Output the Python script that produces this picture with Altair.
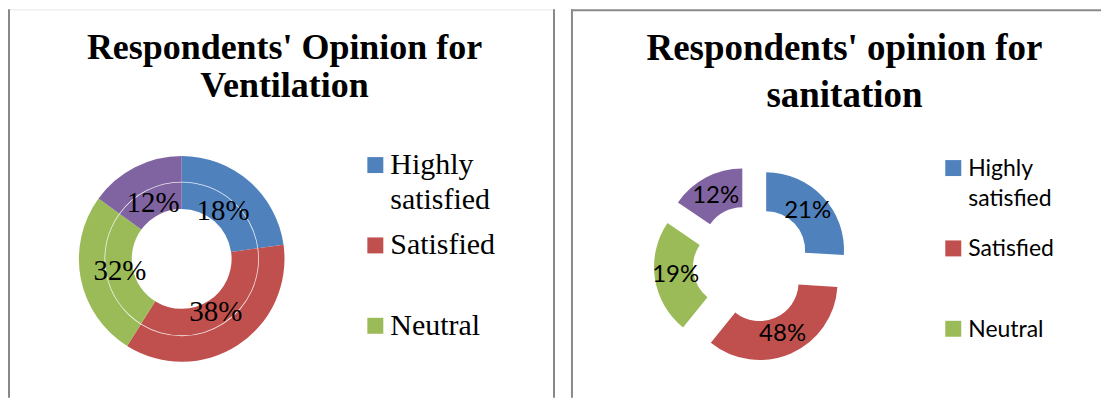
import altair as alt
import pandas as pd

# ---- data ----
categories = ["Highly satisfied", "Satisfied", "Neutral", "Dissatisfied"]
# slice sizes as drawn in the picture (estimated from the arc angles)
ventilation_slices = [22.8, 36.1, 26.1, 15.0]
sanitation_slices = [26.0, 34.8, 23.7, 15.5]
# data labels as printed on the picture
ventilation_labels = ["18%", "38%", "32%", "12%"]
sanitation_labels = ["21%", "48%", "19%", "12%"]
legend_categories = ["Highly satisfied", "Satisfied", "Neutral"]
legend_labels = ["Highly\nsatisfied", "Satisfied", "Neutral"]
colors = ["#4F81BD", "#C0504D", "#9BBB59", "#8064A2"]
title_left = ["Respondents' Opinion for", "Ventilation"]
title_right = ["Respondents' opinion for", "sanitation"]

SERIF = "Liberation Serif"
SANS = "Lato"

color_scale = alt.Scale(domain=categories, range=colors)


def pie_base(values, labels):
    df = pd.DataFrame({"cat": categories, "value": values, "lbl": labels,
                       "order": list(range(len(values)))})
    return (
        alt.Chart(df)
        .transform_joinaggregate(total="sum(value)")
        .transform_window(cum="sum(value)", frame=[None, 0], sort=[{"field": "order"}])
        .transform_calculate(
            t0="2*PI*(datum.cum-datum.value)/datum.total",
            t1="2*PI*datum.cum/datum.total",
        )
        .transform_calculate(mid="(datum.t0+datum.t1)/2")
    )


def legend_layer(x_sq, x_txt, y_range, font, size, line_h, dy):
    ldf = pd.DataFrame({"cat": legend_categories, "label": legend_labels})
    yscale = alt.Scale(domain=legend_categories, range=y_range, padding=0)
    sq = alt.Chart(ldf).mark_square(size=256, opacity=1).encode(
        x=alt.value(x_sq),
        y=alt.Y("cat:N", scale=yscale, axis=None),
        color=alt.Color("cat:N", scale=color_scale, legend=None),
    )
    tx = alt.Chart(ldf).mark_text(
        align="left", baseline="alphabetic", font=font, fontSize=size,
        lineBreak="\n", lineHeight=line_h, dy=dy, color="black",
    ).encode(
        x=alt.value(x_txt),
        y=alt.Y("cat:N", scale=yscale, axis=None),
        text="label:N",
    )
    return sq + tx


one = pd.DataFrame({"a": [0]})

# ---------------- left panel ----------------
W1, H = 548, 389
CX1, CY1 = 174, 250
lb = pie_base(ventilation_slices, ventilation_labels)
left_arcs = lb.mark_arc(innerRadius=50, outerRadius=103).encode(
    theta=alt.Theta("t0:Q", scale=None), theta2="t1:Q",
    color=alt.Color("cat:N", scale=color_scale, legend=None),
    x=alt.value(CX1), y=alt.value(CY1),
)
left_ring = lb.mark_arc(innerRadius=76.6, outerRadius=77.4, color="white", opacity=0.85).encode(
    theta=alt.Theta("t0:Q", scale=None), theta2="t1:Q",
    x=alt.value(CX1), y=alt.value(CY1),
)
left_labels = lb.mark_text(radius=63, font=SERIF, fontSize=29, color="black",
                           align="center", baseline="middle").encode(
    theta=alt.Theta("mid:Q", scale=None), text="lbl:N",
    x=alt.value(CX1), y=alt.value(CY1),
)
left_title = alt.Chart(one).mark_text(
    text=title_left, font=SERIF, fontSize=36, fontWeight="bold", lineHeight=38,
    align="center", baseline="alphabetic", color="black",
).encode(x=alt.value(277), y=alt.value(50))
left_border_l = alt.Chart(one).mark_rule(color="#888888", strokeWidth=2).encode(
    x=alt.value(1), y=alt.value(0), y2=alt.value(H))
left_border_r = alt.Chart(one).mark_rule(color="#888888", strokeWidth=2).encode(
    x=alt.value(547), y=alt.value(0), y2=alt.value(H))
left_border_t = alt.Chart(one).mark_rule(color="#e6e6e6", strokeWidth=1).encode(
    x=alt.value(1), x2=alt.value(547), y=alt.value(0.5))

left_legend = legend_layer(368, 383, [156, 317], SERIF, 30, 35, 9)

left = alt.layer(
    left_border_t, left_border_l, left_border_r, left_arcs, left_ring, left_labels,
    left_title, left_legend,
).properties(width=W1, height=H)

# ---------------- right panel ----------------
W2 = 531
CX2, CY2, EXPL = 181, 255, 20
rb = pie_base(sanitation_slices, sanitation_labels).transform_calculate(
    cx=f"{CX2} + {EXPL}*sin(datum.mid)",
    cy=f"{CY2} - {EXPL}*cos(datum.mid)",
)
right_arcs = rb.mark_arc(innerRadius=39, outerRadius=78).encode(
    theta=alt.Theta("t0:Q", scale=None), theta2="t1:Q",
    color=alt.Color("cat:N", scale=color_scale, legend=None),
    x=alt.X("cx:Q", scale=None, axis=None), y=alt.Y("cy:Q", scale=None, axis=None),
)
right_labels = rb.mark_text(radius=57, font=SANS, fontSize=24, color="black",
                            align="center", baseline="middle").encode(
    theta=alt.Theta("mid:Q", scale=None), text="lbl:N",
    x=alt.X("cx:Q", scale=None, axis=None), y=alt.Y("cy:Q", scale=None, axis=None),
)
right_title = alt.Chart(one).mark_text(
    text=title_right, font=SERIF, fontSize=37, fontWeight="bold", lineHeight=47,
    align="center", baseline="alphabetic", color="black",
).encode(x=alt.value(274), y=alt.value(51))
right_border_l = alt.Chart(one).mark_rule(color="#8a8a8a", strokeWidth=2).encode(
    x=alt.value(1), y=alt.value(0), y2=alt.value(H))
right_border_t = alt.Chart(one).mark_rule(color="#8a8a8a", strokeWidth=2).encode(
    x=alt.value(0), x2=alt.value(W2), y=alt.value(1))

right_legend = legend_layer(383, 398, [159, 320], SANS, 23, 30, 8)

right = alt.layer(
    right_border_t, right_border_l, right_arcs, right_labels, right_title, right_legend,
).properties(width=W2, height=H)

chart = (
    alt.hconcat(left, right, spacing=15)
    .properties(padding=0, background="white")
    .configure_view(stroke=None)
)

chart.save("out.html", embed_options={"renderer": "svg", "actions": False})
